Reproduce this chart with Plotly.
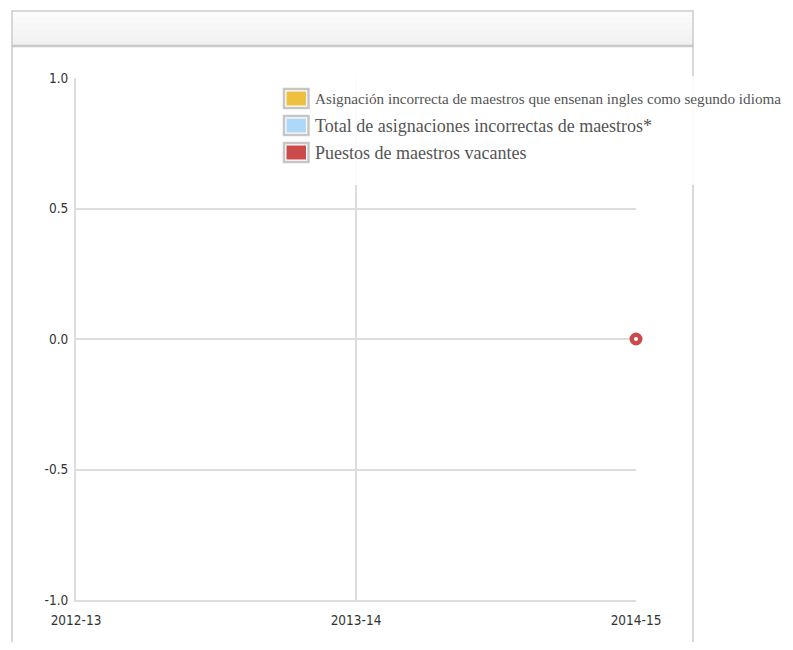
import plotly.graph_objects as go

# ---- data ----
categories = ["2012-13", "2013-14", "2014-15"]
series_names = [
    "Asignación incorrecta de maestros que ensenan ingles como segundo idioma",
    "Total de asignaciones incorrectas de maestros*",
    "Puestos de maestros vacantes",
]
series_colors = ["#EDC13F", "#AFD8F8", "#CB4B4B"]
ell_misassign = [None, None, None]
total_misassign = [None, None, None]
vacant_positions = [None, None, 0]
y_ticks = [-1.0, -0.5, 0.0, 0.5, 1.0]
y_tick_labels = ["-1.0", "-0.5", "0.0", "0.5", "1.0"]

OFF = 8  # page body margin of the html document
W, H = 793 - OFF, 650 - 2 * OFF
# plot area in page px
L, R, T, B = 76, 636, 78, 600


def px_x(px):
    return (px - L) / (R - L)


def px_y(py):
    return (B - py) / (B - T)


fig = go.Figure()
for name, vals, col in zip(series_names, [ell_misassign, total_misassign, vacant_positions], series_colors):
    fig.add_trace(go.Scatter(
        x=categories, y=vals, name=name, mode="lines+markers",
        line=dict(color=col, width=2),
        marker=dict(symbol="circle", size=8.5, color="white", line=dict(color=col, width=4.5)),
        showlegend=False, cliponaxis=False,
    ))

shapes = []
# panel frame
x0, x1 = px_x(12), px_x(693)
shapes.append(dict(type="rect", xref="paper", yref="paper", x0=x0, x1=x1, y0=px_y(46), y1=px_y(700),
                   line=dict(color="#cccccc", width=1.5), fillcolor="rgba(0,0,0,0)", layer="below"))
# header with gradient approximation
steps = 6
for i in range(steps):
    top = 11 + i * (35 / steps)
    bot = 11 + (i + 1) * (35 / steps)
    g = int(251 - i * 2.0)
    shapes.append(dict(type="rect", xref="paper", yref="paper", x0=x0, x1=x1, y0=px_y(bot), y1=px_y(top),
                       line=dict(width=0), fillcolor=f"rgb({g},{g},{g})", layer="below"))
shapes.append(dict(type="rect", xref="paper", yref="paper", x0=x0, x1=x1, y0=px_y(46), y1=px_y(11),
                   line=dict(color="#cccccc", width=1.5), fillcolor="rgba(0,0,0,0)", layer="below"))
shapes.append(dict(type="line", xref="paper", yref="paper", x0=x0, x1=x1, y0=px_y(46), y1=px_y(46),
                   line=dict(color="#c8c8c8", width=2.5), layer="below"))

# legend background
shapes.append(dict(type="rect", xref="paper", yref="paper", x0=px_x(262), x1=px_x(800), y0=px_y(185), y1=px_y(76),
                   line=dict(width=0), fillcolor="rgba(255,255,255,0.9)", layer="above"))

annotations = []
centers = [98.5, 125.5, 152.5]
sizes = [15.2, 18, 18]
for name, col, cy, fs in zip(series_names, series_colors, centers, sizes):
    shapes.append(dict(type="rect", xref="paper", yref="paper", x0=px_x(284), x1=px_x(308.5),
                       y0=px_y(cy + 9.5), y1=px_y(cy - 9.5), line=dict(color="#c6c6c6", width=2.5),
                       fillcolor="white", layer="above"))
    shapes.append(dict(type="rect", xref="paper", yref="paper", x0=px_x(286.5), x1=px_x(306),
                       y0=px_y(cy + 7), y1=px_y(cy - 7), line=dict(width=0),
                       fillcolor=col, layer="above"))
    annotations.append(dict(xref="paper", yref="paper", x=px_x(313), y=px_y(cy), text=name,
                            showarrow=False, xanchor="left", yanchor="middle",
                            font=dict(family="Liberation Serif", size=fs, color="#555555")))

fig.update_layout(
    width=W, height=H,
    margin=dict(l=L - OFF, r=W - (R - OFF), t=T - OFF, b=H - (B - OFF), autoexpand=False),
    paper_bgcolor="white", plot_bgcolor="white",
    shapes=shapes, annotations=annotations,
    showlegend=False,
    xaxis=dict(type="category", categoryorder="array", categoryarray=categories,
               range=[0, 2], showgrid=True, gridcolor="#dddddd", gridwidth=1.5,
               showline=True, linecolor="#dddddd", linewidth=2, zeroline=False,
               ticks="", tickfont=dict(family="DejaVu Sans Condensed", size=13.5, color="#333333"),
               ticklabelstandoff=7, fixedrange=True),
    yaxis=dict(range=[-1, 1], tickvals=y_ticks, ticktext=y_tick_labels,
               showgrid=True, gridcolor="#dddddd", gridwidth=1.5,
               showline=True, linecolor="#dddddd", linewidth=2, zeroline=False,
               ticks="", tickfont=dict(family="DejaVu Sans Condensed", size=13.5, color="#333333"),
               ticklabelstandoff=3, fixedrange=True),
)

fig.write_html("out.html")
